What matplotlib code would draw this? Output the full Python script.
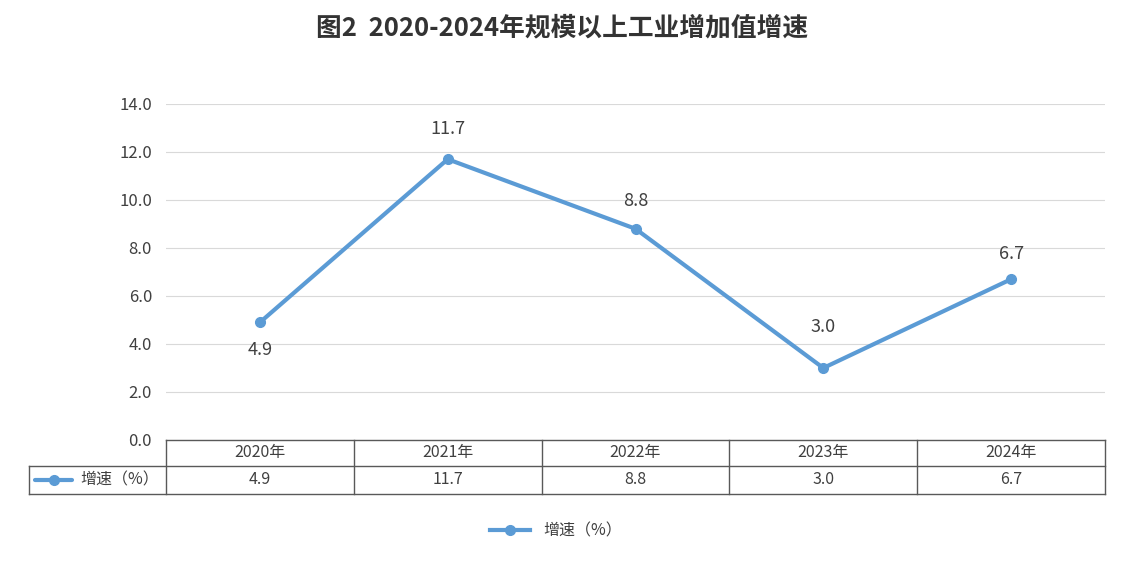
import matplotlib
matplotlib.use('Agg')
import matplotlib.pyplot as plt
from matplotlib.lines import Line2D

plt.rcParams['font.family'] = ['Noto Sans CJK SC', 'DejaVu Sans']

# datos
years = ['2020年', '2021年', '2022年', '2023年', '2024年']
growth = [4.9, 11.7, 8.8, 3.0, 6.7]
series_name = '增速（%）'
title = '图2  2020-2024年规模以上工业增加值增速'

blue = '#5B9BD5'
txt = '#404040'
gridc = '#D9D9D9'
edge = '#595959'

fig = plt.figure(figsize=(11.24, 5.61), dpi=100)
ax = fig.add_axes([166 / 1124, 1 - 440 / 561, 939 / 1124, 336 / 561])

x = [i + 0.5 for i in range(len(years))]
ax.plot(x, growth, color=blue, lw=3, marker='o', ms=7, zorder=3)

# etiquetas de datos (desplazamiento vertical en puntos, como en el original)
label_off = [-20, 21.5, 20, 29.5, 18]
for xi, v, off in zip(x, growth, label_off):
    ax.annotate(f'{v:.1f}', (xi, v), xytext=(0, off), textcoords='offset points',
                ha='center', va='center', fontsize=13, color=txt)

ax.set_xlim(0, len(years))
ax.set_ylim(0, 14)
ax.set_yticks([0, 2, 4, 6, 8, 10, 12, 14])
ax.set_yticklabels([f'{t:.1f}' for t in ax.get_yticks()], fontsize=12, color=txt)
ax.set_xticks([])
ax.grid(axis='y', color=gridc, lw=0.8)
ax.set_axisbelow(True)
ax.tick_params(axis='y', length=0, pad=10)
for s in ax.spines.values():
    s.set_visible(False)

# tabla de datos debajo del eje
tr = ax.transAxes
ah = 336.0
r1 = -26 / ah
r2 = -54 / ah
xl = (29 - 166) / 939.0
kw = dict(color=edge, lw=1, transform=tr, clip_on=False)
ax.add_line(Line2D([0, 1], [0, 0], **kw))
ax.add_line(Line2D([xl, 1], [r1, r1], **kw))
ax.add_line(Line2D([xl, 1], [r2, r2], **kw))
ax.add_line(Line2D([xl, xl], [r1, r2], **kw))
for i in range(len(years) + 1):
    xf = i / len(years)
    ax.add_line(Line2D([xf, xf], [0, r2], **kw))
for i, (yr, v) in enumerate(zip(years, growth)):
    xc = (i + 0.5) / len(years)
    ax.text(xc, r1 / 2, yr, transform=tr, ha='center', va='center', fontsize=11.5, color=txt)
    ax.text(xc, (r1 + r2) / 2, f'{v:.1f}', transform=tr, ha='center', va='center',
            fontsize=11.5, color=txt)

# leyenda dentro de la tabla
ym = (r1 + r2) / 2
lx0 = (35 - 166) / 939.0
lx1 = (72 - 166) / 939.0
ax.add_line(Line2D([lx0, lx1], [ym, ym], color=blue, lw=3, transform=tr, clip_on=False,
                   solid_capstyle='round'))
ax.add_line(Line2D([(lx0 + lx1) / 2], [ym], color=blue, marker='o', ms=7, transform=tr,
                   clip_on=False))
ax.text((80 - 166) / 939.0, ym, series_name, transform=tr, ha='left', va='center',
        fontsize=11.5, color=txt)

# leyenda inferior
fig.legend([Line2D([0], [0], color=blue, lw=3, marker='o', ms=7)], [series_name],
           loc='center', bbox_to_anchor=(556 / 1124, 1 - 531 / 561), frameon=False,
           fontsize=11.5, handlelength=2.5, labelcolor=txt)

fig.text(0.5, 1 - 28 / 561, title, ha='center', va='center', fontsize=18.5,
         fontweight='bold', color='#333333')

fig.savefig('out.png', dpi=100)
